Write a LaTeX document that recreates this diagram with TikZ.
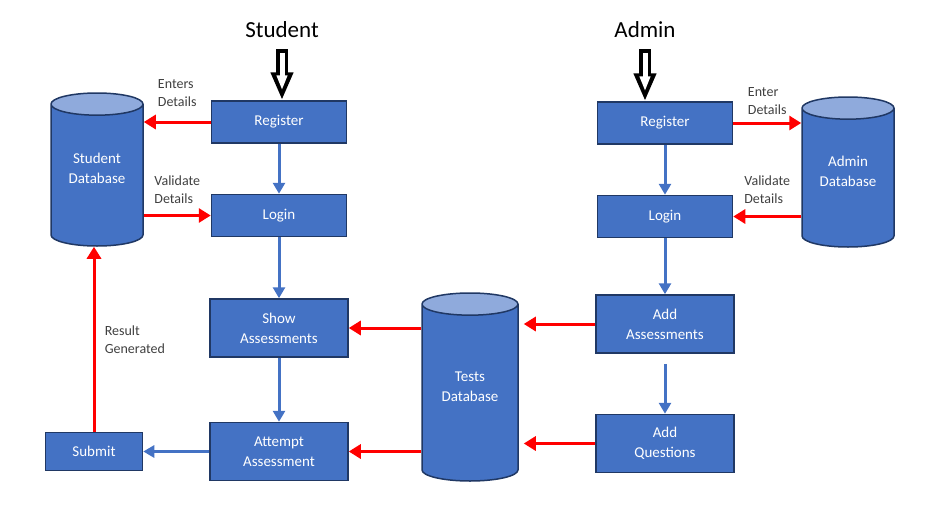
\documentclass[tikz,border=0pt]{standalone}
\usepackage{fontspec}
\setmainfont{Carlito}
\usepackage{tikz}
\usetikzlibrary{positioning, arrows.meta, shapes.geometric}

\definecolor{boxblue}{HTML}{4472C4}
\definecolor{boxline}{HTML}{203864}
\definecolor{dbtop}{HTML}{8FAADC}
\definecolor{lblgrey}{HTML}{404040}
\definecolor{flowred}{HTML}{FF0000}

\newcommand{\boxfont}{\fontsize{15}{20}\selectfont}
\newcommand{\headfont}{\fontsize{23}{27}\selectfont}
\newcommand{\lblfont}{\fontsize{14}{18}\selectfont}
% text in a cylinder sits a little above its body centre
\newcommand{\dbname}[2]{\begin{tabular}{@{}c@{}}#1\\#2\end{tabular}\rule[-32pt]{0pt}{0pt}}

\begin{document}
\begin{tikzpicture}[
x=1pt, y=1pt,
every node/.style={align=center},
boxstyle/.style={draw=boxline, fill=boxblue, line width=1.5pt, text=white, font=\boxfont, minimum width=135pt, minimum height=42pt},
tallbox/.style={boxstyle, minimum width=138pt, minimum height=58pt},
dbstyle/.style={cylinder, shape border rotate=90, draw=boxline, line width=1.5pt, cylinder uses custom fill, cylinder body fill=boxblue, cylinder end fill=dbtop, aspect=0.35, minimum width=92pt, text=white, font=\boxfont, anchor=shape center},
heading/.style={font=\headfont, inner sep=0pt},
lbl/.style={font=\lblfont, text=lblgrey, align=left},
redflow/.style={-{Triangle[length=12pt,width=14pt]}, line width=3pt, flowred},
blueflow/.style={-{Triangle[length=11pt,width=12pt]}, line width=3pt, boxblue},
hollowout/.style={-{Triangle[length=28pt,width=21pt]}, line width=12pt, black, shorten <=11pt},
hollowin/.style={-{Triangle[length=15pt,width=10pt]}, line width=5pt, white, shorten <=14.5pt, shorten >=10pt}
]
\useasboundingbox (0,0) rectangle (938,-520);
% Student side
\node[heading] (stitle) at (282,-30) {Student};
\node[boxstyle] (reg1) at (279,-122) {Register};
\node[boxstyle, below=50pt of reg1] (login1) {Login};
\node[tallbox, below=61pt of login1] (show) {Show\\Assessments};
\node[tallbox, below=64pt of show] (attempt) {Attempt\\Assessment};
\node[boxstyle, minimum width=97pt, minimum height=38pt, left=66pt of attempt] (submit) {Submit};
\node[dbstyle, minimum height=153pt] (sdb) at (97,-169.5) {\dbname{Student}{Database}};
% Tests database
\node[dbstyle, minimum width=96pt, minimum height=188pt] (tdb) at (470,-387) {\dbname{Tests}{Database}};
% Admin side
\node[heading] (atitle) at (645,-30) {Admin};
\node[boxstyle] (reg2) at (665,-123) {Register};
\node[boxstyle, below=50pt of reg2] (login2) {Login};
\node[tallbox, below=56pt of login2] (addass) {Add\\Assessments};
\node[tallbox, below=60pt of addass] (addq) {Add\\Questions};
\node[dbstyle, minimum height=150pt] (adb) at (848,-172) {\dbname{Admin}{Database}};

% user arrows
\draw[hollowout] (stitle.south) -- (stitle.south |- reg1.north);
\draw[hollowin] (stitle.south) -- (stitle.south |- reg1.north);
\draw[hollowout] (atitle.south) -- (atitle.south |- reg2.north);
\draw[hollowin] (atitle.south) -- (atitle.south |- reg2.north);

% student flow
\draw[blueflow] (reg1.south) -- (reg1.south |- login1.north);
\draw[blueflow] (login1.south) -- (show.north);
\draw[blueflow] (show.south) -- (attempt.north);
\draw[blueflow] (attempt.west) -- (submit.east);
\draw[redflow] (reg1.west) -- node[lbl, above=11pt]{Enters\\Details} (reg1.west -| sdb.east);
\draw[redflow] (sdb.east |- login1.west) -- node[lbl, above=7pt]{Validate\\Details} (login1.west);
\draw[redflow] (submit.north) -- node[lbl, right=6pt]{Result\\Generated} (submit.north |- sdb.south);
\draw[redflow] (tdb.west |- show.east) -- (show.east);
\draw[redflow] (tdb.west |- attempt.east) -- (attempt.east);

% admin flow
\draw[blueflow] (reg2.south) -- (reg2.south |- login2.north);
\draw[blueflow] (login2.south) -- (login2.south |- addass.north);
\draw[blueflow, shorten <=10pt] (addass.south) -- (addq.north);
\draw[redflow] (reg2.east) -- node[lbl, above=4pt]{Enter\\Details} (reg2.east -| adb.west);
\draw[redflow] (adb.west |- login2.east) -- node[lbl, above=8pt]{Validate\\Details} (login2.east);
\draw[redflow, shorten >=5pt] (addass.west) -- (addass.west -| tdb.east);
\draw[redflow, shorten >=5pt] (addq.west) -- (addq.west -| tdb.east);
\end{tikzpicture}
\end{document}
